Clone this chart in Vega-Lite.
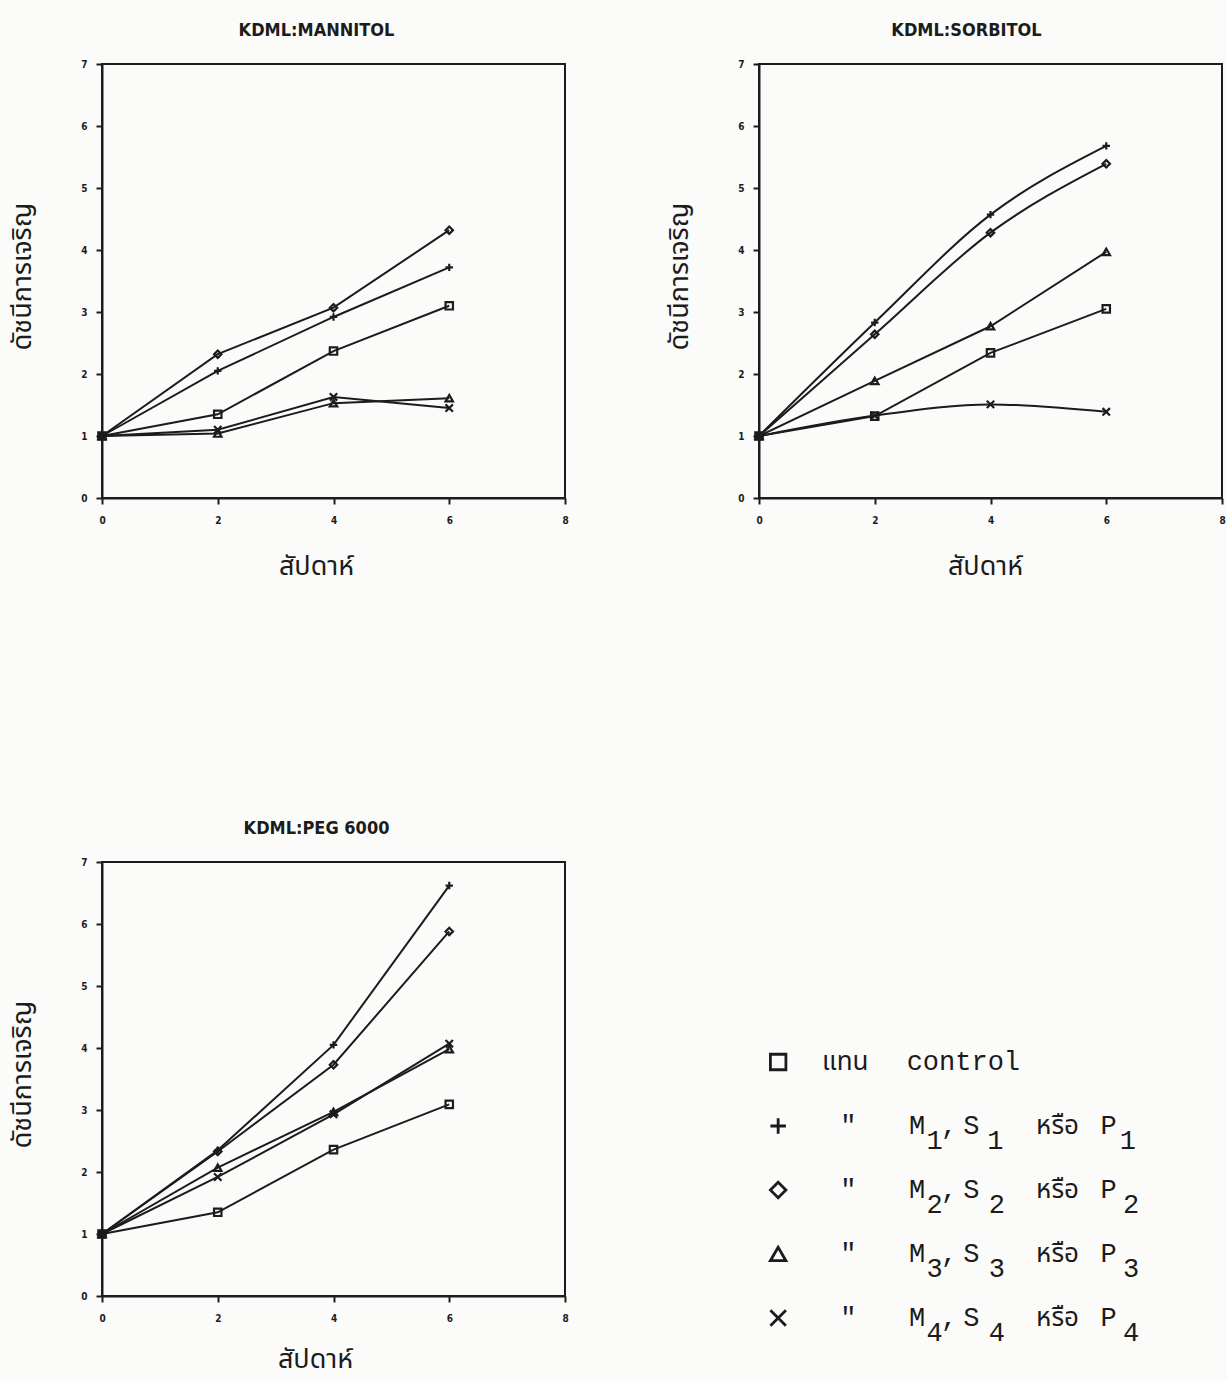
{
  "$schema": "https://vega.github.io/schema/vega-lite/v6.json",
  "background": "#fbfbfa",
  "padding": {"left": 7, "top": 21, "right": 0, "bottom": 8},
  "config": {
    "view": {"stroke": "#1c1c1c", "strokeWidth": 2},
    "axis": {
      "grid": false,
      "domainColor": "#1c1c1c",
      "domainWidth": 2,
      "tickColor": "#1c1c1c",
      "tickWidth": 2,
      "tickSize": 6,
      "labelFont": "DejaVu Sans Condensed",
      "labelFontWeight": "bold",
      "labelFontSize": 10,
      "labelColor": "#1c1c1c",
      "labelFlush": false,
      "titleFont": "Noto Sans Thai, Noto Serif Thai, Loma, Garuda, Tlwg Typo, sans-serif",
      "titleFontWeight": "normal",
      "titleFontSize": 27,
      "titleColor": "#1c1c1c"
    },
    "title": {
      "font": "DejaVu Sans Condensed",
      "fontWeight": "bold",
      "fontSize": 18,
      "color": "#1c1c1c",
      "frame": "group",
      "anchor": "middle",
      "baseline": "alphabetic",
      "offset": 19
    }
  },
  "data": {
    "values": [
      {"medium": "MANNITOL", "trt": "control", "week": 0, "index": 1.0},
      {"medium": "MANNITOL", "trt": "control", "week": 2, "index": 1.35},
      {"medium": "MANNITOL", "trt": "control", "week": 4, "index": 2.37},
      {"medium": "MANNITOL", "trt": "control", "week": 6, "index": 3.1},
      {"medium": "MANNITOL", "trt": "1", "week": 0, "index": 1.0},
      {"medium": "MANNITOL", "trt": "1", "week": 2, "index": 2.05},
      {"medium": "MANNITOL", "trt": "1", "week": 4, "index": 2.92},
      {"medium": "MANNITOL", "trt": "1", "week": 6, "index": 3.72},
      {"medium": "MANNITOL", "trt": "2", "week": 0, "index": 1.0},
      {"medium": "MANNITOL", "trt": "2", "week": 2, "index": 2.32},
      {"medium": "MANNITOL", "trt": "2", "week": 4, "index": 3.07},
      {"medium": "MANNITOL", "trt": "2", "week": 6, "index": 4.32},
      {"medium": "MANNITOL", "trt": "3", "week": 0, "index": 1.0},
      {"medium": "MANNITOL", "trt": "3", "week": 2, "index": 1.04},
      {"medium": "MANNITOL", "trt": "3", "week": 4, "index": 1.53},
      {"medium": "MANNITOL", "trt": "3", "week": 6, "index": 1.61},
      {"medium": "MANNITOL", "trt": "4", "week": 0, "index": 1.0},
      {"medium": "MANNITOL", "trt": "4", "week": 2, "index": 1.1},
      {"medium": "MANNITOL", "trt": "4", "week": 4, "index": 1.63},
      {"medium": "MANNITOL", "trt": "4", "week": 6, "index": 1.45},

      {"medium": "SORBITOL", "trt": "control", "week": 0, "index": 1.0},
      {"medium": "SORBITOL", "trt": "control", "week": 2, "index": 1.32},
      {"medium": "SORBITOL", "trt": "control", "week": 4, "index": 2.34},
      {"medium": "SORBITOL", "trt": "control", "week": 6, "index": 3.05},
      {"medium": "SORBITOL", "trt": "1", "week": 0, "index": 1.0},
      {"medium": "SORBITOL", "trt": "1", "week": 2, "index": 2.83},
      {"medium": "SORBITOL", "trt": "1", "week": 4, "index": 4.57},
      {"medium": "SORBITOL", "trt": "1", "week": 6, "index": 5.68},
      {"medium": "SORBITOL", "trt": "2", "week": 0, "index": 1.0},
      {"medium": "SORBITOL", "trt": "2", "week": 2, "index": 2.64},
      {"medium": "SORBITOL", "trt": "2", "week": 4, "index": 4.28},
      {"medium": "SORBITOL", "trt": "2", "week": 6, "index": 5.39},
      {"medium": "SORBITOL", "trt": "3", "week": 0, "index": 1.0},
      {"medium": "SORBITOL", "trt": "3", "week": 2, "index": 1.89},
      {"medium": "SORBITOL", "trt": "3", "week": 4, "index": 2.77},
      {"medium": "SORBITOL", "trt": "3", "week": 6, "index": 3.97},
      {"medium": "SORBITOL", "trt": "4", "week": 0, "index": 1.0},
      {"medium": "SORBITOL", "trt": "4", "week": 2, "index": 1.33},
      {"medium": "SORBITOL", "trt": "4", "week": 4, "index": 1.51},
      {"medium": "SORBITOL", "trt": "4", "week": 6, "index": 1.39},

      {"medium": "PEG 6000", "trt": "control", "week": 0, "index": 1.0},
      {"medium": "PEG 6000", "trt": "control", "week": 2, "index": 1.35},
      {"medium": "PEG 6000", "trt": "control", "week": 4, "index": 2.36},
      {"medium": "PEG 6000", "trt": "control", "week": 6, "index": 3.09},
      {"medium": "PEG 6000", "trt": "1", "week": 0, "index": 1.0},
      {"medium": "PEG 6000", "trt": "1", "week": 2, "index": 2.35},
      {"medium": "PEG 6000", "trt": "1", "week": 4, "index": 4.05},
      {"medium": "PEG 6000", "trt": "1", "week": 6, "index": 6.62},
      {"medium": "PEG 6000", "trt": "2", "week": 0, "index": 1.0},
      {"medium": "PEG 6000", "trt": "2", "week": 2, "index": 2.33},
      {"medium": "PEG 6000", "trt": "2", "week": 4, "index": 3.73},
      {"medium": "PEG 6000", "trt": "2", "week": 6, "index": 5.88},
      {"medium": "PEG 6000", "trt": "3", "week": 0, "index": 1.0},
      {"medium": "PEG 6000", "trt": "3", "week": 2, "index": 2.07},
      {"medium": "PEG 6000", "trt": "3", "week": 4, "index": 2.97},
      {"medium": "PEG 6000", "trt": "3", "week": 6, "index": 3.98},
      {"medium": "PEG 6000", "trt": "4", "week": 0, "index": 1.0},
      {"medium": "PEG 6000", "trt": "4", "week": 2, "index": 1.92},
      {"medium": "PEG 6000", "trt": "4", "week": 4, "index": 2.93},
      {"medium": "PEG 6000", "trt": "4", "week": 6, "index": 4.07}
    ]
  },
  "bounds": "flush",
  "spacing": 798,
  "vconcat": [
    {
      "bounds": "flush",
      "spacing": 194,
      "hconcat": [
        {
          "width": 463,
          "height": 434,
          "title": {"text": "KDML:MANNITOL", "dx": -17},
          "transform": [{"filter": "datum.medium === 'MANNITOL'"}],
          "encoding": {
            "x": {"field": "week", "type": "quantitative", "scale": {"domain": [0, 8]},
                  "axis": {"title": "สัปดาห์", "values": [0, 2, 4, 6, 8], "labelPadding": 11, "titleX": 214, "titleY": 68, "titleBaseline": "middle"}},
            "y": {"field": "index", "type": "quantitative", "scale": {"domain": [0, 7]},
                  "axis": {"title": "ดัชนีการเจริญ", "values": [0, 1, 2, 3, 4, 5, 6, 7], "labelPadding": 9, "titleX": -80, "titleY": 212, "titleBaseline": "middle"}},
            "detail": {"field": "trt"}
          },
          "layer": [
            {"mark": {"type": "line", "color": "#1c1c1c", "strokeWidth": 2}},
            {"mark": {"type": "point", "filled": false, "color": "#1c1c1c", "strokeWidth": 2.2, "size": 55, "opacity": 1},
             "encoding": {"shape": {"field": "trt", "type": "nominal", "legend": null,
               "scale": {"domain": ["control", "1", "2", "3", "4"], "range": ["square", "M-1,0H1M0,-1V1", "diamond", "triangle-up", "M-1,-1L1,1M-1,1L1,-1"]}}}}
          ]
        },
        {
          "width": 463,
          "height": 434,
          "title": {"text": "KDML:SORBITOL", "dx": -24},
          "transform": [{"filter": "datum.medium === 'SORBITOL'"}],
          "encoding": {
            "x": {"field": "week", "type": "quantitative", "scale": {"domain": [0, 8]},
                  "axis": {"title": "สัปดาห์", "values": [0, 2, 4, 6, 8], "labelPadding": 11, "titleX": 226, "titleY": 68, "titleBaseline": "middle"}},
            "y": {"field": "index", "type": "quantitative", "scale": {"domain": [0, 7]},
                  "axis": {"title": "ดัชนีการเจริญ", "values": [0, 1, 2, 3, 4, 5, 6, 7], "labelPadding": 9, "titleX": -80, "titleY": 212, "titleBaseline": "middle"}},
            "detail": {"field": "trt"}
          },
          "layer": [
            {"transform": [{"filter": "datum.trt === '1' || datum.trt === '2' || datum.trt === '4'"}],
             "mark": {"type": "line", "color": "#1c1c1c", "strokeWidth": 2, "interpolate": "monotone"}},
            {"transform": [{"filter": "datum.trt === 'control' || datum.trt === '3'"}],
             "mark": {"type": "line", "color": "#1c1c1c", "strokeWidth": 2}},
            {"mark": {"type": "point", "filled": false, "color": "#1c1c1c", "strokeWidth": 2.2, "size": 55, "opacity": 1},
             "encoding": {"shape": {"field": "trt", "type": "nominal", "legend": null,
               "scale": {"domain": ["control", "1", "2", "3", "4"], "range": ["square", "M-1,0H1M0,-1V1", "diamond", "triangle-up", "M-1,-1L1,1M-1,1L1,-1"]}}}}
          ]
        }
      ]
    },
    {
      "bounds": "flush",
      "spacing": 194,
      "hconcat": [
        {
          "width": 463,
          "height": 434,
          "title": {"text": "KDML:PEG 6000", "dx": -17},
          "transform": [{"filter": "datum.medium === 'PEG 6000'"}],
          "encoding": {
            "x": {"field": "week", "type": "quantitative", "scale": {"domain": [0, 8]},
                  "axis": {"title": "สัปดาห์", "values": [0, 2, 4, 6, 8], "labelPadding": 11, "titleX": 213, "titleY": 63, "titleBaseline": "middle"}},
            "y": {"field": "index", "type": "quantitative", "scale": {"domain": [0, 7]},
                  "axis": {"title": "ดัชนีการเจริญ", "values": [0, 1, 2, 3, 4, 5, 6, 7], "labelPadding": 9, "titleX": -80, "titleY": 212, "titleBaseline": "middle"}},
            "detail": {"field": "trt"}
          },
          "layer": [
            {"mark": {"type": "line", "color": "#1c1c1c", "strokeWidth": 2}},
            {"mark": {"type": "point", "filled": false, "color": "#1c1c1c", "strokeWidth": 2.2, "size": 55, "opacity": 1},
             "encoding": {"shape": {"field": "trt", "type": "nominal", "legend": null,
               "scale": {"domain": ["control", "1", "2", "3", "4"], "range": ["square", "M-1,0H1M0,-1V1", "diamond", "triangle-up", "M-1,-1L1,1M-1,1L1,-1"]}}}}
          ]
        },
        {
          "width": 463,
          "height": 434,
          "view": {"stroke": null},
          "data": {
            "values": [
              {"row": 0, "col": 1.2, "part": "sym", "trt": "control"},
              {"row": 1, "col": 1.2, "part": "sym", "trt": "1"},
              {"row": 2, "col": 1.2, "part": "sym", "trt": "2"},
              {"row": 3, "col": 1.2, "part": "sym", "trt": "3"},
              {"row": 4, "col": 1.2, "part": "sym", "trt": "4"},

              {"row": 0, "col": 5.4, "part": "thai", "text": "แทน"},
              {"row": 0, "col": 12.8, "part": "main", "text": "control"},

              {"row": 1, "col": 5.6, "part": "main", "text": "\""},
              {"row": 1, "col": 9.9, "part": "main", "text": "M"},
              {"row": 1, "col": 11.0, "part": "sub", "text": "1"},
              {"row": 1, "col": 11.9, "part": "main", "text": ","},
              {"row": 1, "col": 13.3, "part": "main", "text": "S"},
              {"row": 1, "col": 14.8, "part": "sub", "text": "1"},
              {"row": 1, "col": 18.7, "part": "thai", "text": "หรือ"},
              {"row": 1, "col": 21.9, "part": "main", "text": "P"},
              {"row": 1, "col": 23.1, "part": "sub", "text": "1"},

              {"row": 2, "col": 5.6, "part": "main", "text": "\""},
              {"row": 2, "col": 9.9, "part": "main", "text": "M"},
              {"row": 2, "col": 11.0, "part": "sub", "text": "2"},
              {"row": 2, "col": 11.9, "part": "main", "text": ","},
              {"row": 2, "col": 13.3, "part": "main", "text": "S"},
              {"row": 2, "col": 14.9, "part": "sub", "text": "2"},
              {"row": 2, "col": 18.7, "part": "thai", "text": "หรือ"},
              {"row": 2, "col": 21.9, "part": "main", "text": "P"},
              {"row": 2, "col": 23.3, "part": "sub", "text": "2"},

              {"row": 3, "col": 5.6, "part": "main", "text": "\""},
              {"row": 3, "col": 9.9, "part": "main", "text": "M"},
              {"row": 3, "col": 11.0, "part": "sub", "text": "3"},
              {"row": 3, "col": 11.9, "part": "main", "text": ","},
              {"row": 3, "col": 13.3, "part": "main", "text": "S"},
              {"row": 3, "col": 14.9, "part": "sub", "text": "3"},
              {"row": 3, "col": 18.7, "part": "thai", "text": "หรือ"},
              {"row": 3, "col": 21.9, "part": "main", "text": "P"},
              {"row": 3, "col": 23.3, "part": "sub", "text": "3"},

              {"row": 4, "col": 5.6, "part": "main", "text": "\""},
              {"row": 4, "col": 9.9, "part": "main", "text": "M"},
              {"row": 4, "col": 11.0, "part": "sub", "text": "4"},
              {"row": 4, "col": 11.9, "part": "main", "text": ","},
              {"row": 4, "col": 13.3, "part": "main", "text": "S"},
              {"row": 4, "col": 14.9, "part": "sub", "text": "4"},
              {"row": 4, "col": 18.7, "part": "thai", "text": "หรือ"},
              {"row": 4, "col": 21.9, "part": "main", "text": "P"},
              {"row": 4, "col": 23.3, "part": "sub", "text": "4"}
            ]
          },
          "encoding": {
            "x": {"field": "col", "type": "quantitative", "axis": null, "scale": {"domain": [0, 29], "range": [0, 463]}},
            "y": {"field": "row", "type": "quantitative", "axis": null, "scale": {"domain": [0, 4], "range": [200, 456]}}
          },
          "layer": [
            {
              "transform": [{"filter": "datum.part === 'sym'"}],
              "mark": {"type": "point", "filled": false, "color": "#1c1c1c", "strokeWidth": 2.8, "size": 240, "opacity": 1},
              "encoding": {"shape": {"field": "trt", "type": "nominal", "legend": null,
                "scale": {"domain": ["control", "1", "2", "3", "4"], "range": ["square", "M-1,0H1M0,-1V1", "M0,-1.2L0.6,0L0,1.2L-0.6,0Z", "triangle-up", "M-0.8,-1L0.8,1M-0.8,1L0.8,-1"]}}}
            },
            {
              "transform": [{"filter": "datum.part === 'main'"}],
              "mark": {"type": "text", "font": "Courier New, Liberation Mono, monospace", "fontSize": 27, "color": "#1c1c1c", "align": "center", "baseline": "middle"},
              "encoding": {"text": {"field": "text"}}
            },
            {
              "transform": [{"filter": "datum.part === 'sub'"}],
              "mark": {"type": "text", "font": "Courier New, Liberation Mono, monospace", "fontSize": 27, "color": "#1c1c1c", "align": "center", "baseline": "middle", "dy": 15},
              "encoding": {"text": {"field": "text"}}
            },
            {
              "transform": [{"filter": "datum.part === 'thai'"}],
              "mark": {"type": "text", "font": "Noto Sans Thai, Noto Serif Thai, Loma, Garuda, Tlwg Typo, sans-serif", "fontSize": 26, "color": "#1c1c1c", "align": "center", "baseline": "middle"},
              "encoding": {"text": {"field": "text"}}
            }
          ]
        }
      ]
    }
  ]
}
